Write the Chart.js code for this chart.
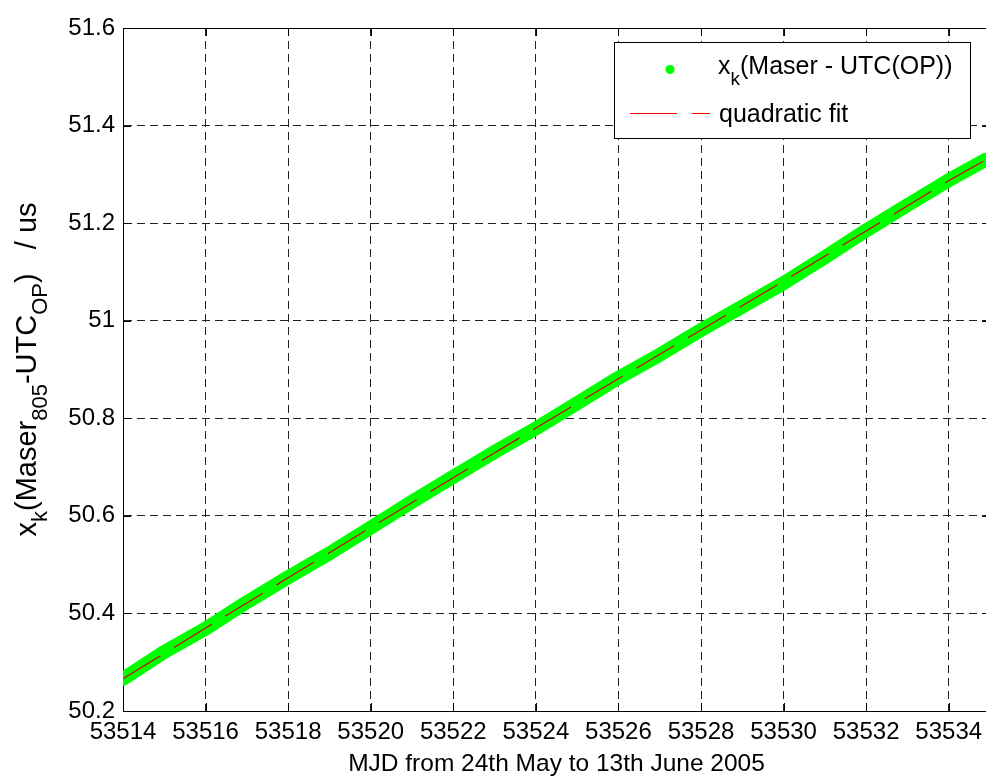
<!doctype html>
<html lang="en">

<head>
  <meta charset="utf-8">
  <title>Maser 805 - UTC(OP)</title>
  <script src="https://cdn.jsdelivr.net/npm/chart.js/dist/chart.umd.min.js"></script>
  <style>
    html, body { margin: 0; padding: 0; background: #fff; overflow: hidden; }
    canvas { display: block; }
  </style>
</head>

<body>
  <canvas id="myChart" width="1000" height="779"></canvas>

  <script>
    const mjd = [53514, 53515, 53516, 53517, 53518, 53519, 53520, 53521, 53522, 53523, 53524,
                 53525, 53526, 53527, 53528, 53529, 53530, 53531, 53532, 53533, 53534, 53534.9];
    const offsetUs = [50.266, 50.321, 50.369, 50.423, 50.474, 50.523, 50.576, 50.629, 50.680, 50.731, 50.779,
                      50.831, 50.883, 50.930, 50.981, 51.029, 51.077, 51.130, 51.185, 51.237, 51.288, 51.330];

    // quadratic fit
    const fitMjd = [53514, 53516, 53518, 53520, 53522, 53524, 53526, 53528, 53530, 53532, 53534, 53534.9];
    const fitUs = [50.266, 50.370, 50.473, 50.576, 50.678, 50.780, 50.881, 50.981, 51.081, 51.184, 51.287, 51.330];

    const xTicks = [53514, 53516, 53518, 53520, 53522, 53524, 53526, 53528, 53530, 53532, 53534];
    const yTicks = [50.2, 50.4, 50.6, 50.8, 51, 51.2, 51.4, 51.6];

    const FONT = 'Liberation Sans, Arial, sans-serif';

    // text with subscripts, parts = [[text, isSub], ...]
    function richWidth(ctx, parts, size, subSize) {
      let w = 0;
      parts.forEach(([t, sub]) => {
        ctx.font = (sub ? subSize : size) + 'px ' + FONT;
        w += ctx.measureText(t).width;
      });
      return w;
    }
    function drawRich(ctx, parts, x, y, size, subSize, drop) {
      ctx.textAlign = 'left';
      ctx.textBaseline = 'alphabetic';
      ctx.fillStyle = '#000';
      parts.forEach(([t, sub]) => {
        ctx.font = (sub ? subSize : size) + 'px ' + FONT;
        ctx.fillText(t, x, sub ? y + drop : y);
        x += ctx.measureText(t).width;
      });
    }

    const matlabLook = {
      id: 'matlabLook',
      beforeDatasetsDraw(chart) {
        const { ctx, chartArea: a, scales: { x, y } } = chart;
        ctx.save();
        ctx.strokeStyle = '#000';
        ctx.lineWidth = 1;
        ctx.beginPath();
        xTicks.forEach(v => {
          const px = Math.round(x.getPixelForValue(v)) + 0.5;
          ctx.moveTo(px, a.bottom); ctx.lineTo(px, a.bottom - 8);
          ctx.moveTo(px, a.top); ctx.lineTo(px, a.top + 8);
        });
        yTicks.forEach(v => {
          const py = Math.round(y.getPixelForValue(v)) + 0.5;
          ctx.moveTo(a.left, py); ctx.lineTo(a.left + 8, py);
          ctx.moveTo(a.right, py); ctx.lineTo(a.right - 8, py);
        });
        ctx.stroke();
        ctx.strokeRect(Math.round(a.left) + 0.5, Math.round(a.top) + 0.5,
                       Math.round(a.right - a.left), Math.round(a.bottom - a.top));
        ctx.restore();
      },
      afterDraw(chart) {
        const { ctx, chartArea: a } = chart;
        ctx.save();

        // y axis title with subscripts
        const yTitle = [['x', false], ['k', true], ['(Maser', false], ['805', true],
                        ['-UTC', false], ['OP', true], [')   / us', false]];
        const w = richWidth(ctx, yTitle, 29, 22);
        ctx.translate(36, (a.top + a.bottom) / 2);
        ctx.rotate(-Math.PI / 2);
        drawRich(ctx, yTitle, -w / 2, 0, 29, 22, 11);
        ctx.setTransform(1, 0, 0, 1, 0, 0);

        // legend box
        const lx = a.left + 491, ly = a.top + 14;
        ctx.fillStyle = '#fff';
        ctx.fillRect(lx, ly, 356, 96);
        ctx.strokeStyle = '#000';
        ctx.lineWidth = 1;
        ctx.strokeRect(lx + 0.5, ly + 0.5, 356, 96);

        ctx.fillStyle = '#00ff00';
        ctx.beginPath();
        ctx.arc(lx + 56, ly + 27.5, 4.5, 0, Math.PI * 2);
        ctx.fill();
        drawRich(ctx, [['x', false], ['k', true], ['(Maser - UTC(OP))', false]], lx + 104, ly + 31.5, 25, 19, 11);

        ctx.strokeStyle = '#ff0000';
        ctx.setLineDash([47, 15]);
        ctx.beginPath();
        ctx.moveTo(lx + 16, ly + 71.5);
        ctx.lineTo(lx + 96, ly + 71.5);
        ctx.stroke();
        ctx.setLineDash([]);
        drawRich(ctx, [['quadratic fit', false]], lx + 105, ly + 80, 25, 19, 11);

        ctx.restore();
      }
    };

    const config = {
      type: 'scatter',
      data: {
        datasets: [
          {
            label: 'x_k(Maser - UTC(OP))',
            data: mjd.map((v, i) => ({ x: v, y: offsetUs[i] })),
            showLine: true,
            borderColor: '#00ff00',
            backgroundColor: '#00ff00',
            borderWidth: 14,
            borderCapStyle: 'round',
            borderJoinStyle: 'round',
            pointRadius: 0,
            order: 2
          },
          {
            label: 'quadratic fit',
            data: fitMjd.map((v, i) => ({ x: v, y: fitUs[i] })),
            showLine: true,
            borderColor: '#d00000',
            borderWidth: 1.2,
            borderDash: [44, 16],
            pointRadius: 0,
            order: 1
          }
        ]
      },
      options: {
        responsive: false,
        animation: false,
        devicePixelRatio: 1,
        layout: { padding: { top: 28, right: 10, bottom: 0, left: 0 } },
        plugins: {
          legend: { display: false },
          tooltip: { enabled: false }
        },
        scales: {
          x: {
            type: 'linear',
            min: 53514,
            max: 53535,
            afterBuildTicks: s => { s.ticks = xTicks.map(v => ({ value: v })); },
            afterFit: s => { s.height = 68; },
            grid: { color: '#222', lineWidth: 1, drawTicks: false },
            border: { display: true, color: '#000', width: 1, dash: [8, 5] },
            ticks: {
              color: '#000',
              padding: 7,
              maxRotation: 0,
              autoSkip: false,
              font: { family: FONT, size: 24 },
              callback: v => String(v)
            },
            title: {
              display: true,
              text: 'MJD from 24th May to 13th June 2005',
              color: '#000',
              font: { family: FONT, size: 24.5 },
              padding: { top: 0, bottom: 0 }
            }
          },
          y: {
            type: 'linear',
            min: 50.2,
            max: 51.6,
            afterBuildTicks: s => { s.ticks = yTicks.map(v => ({ value: v })); },
            afterFit: s => { s.width = 123; },
            grid: { color: '#222', lineWidth: 1, drawTicks: false },
            border: { display: true, color: '#000', width: 1, dash: [8, 5] },
            ticks: {
              color: '#000',
              padding: 8,
              autoSkip: false,
              font: { family: FONT, size: 24 },
              callback: v => String(v)
            }
          }
        }
      },
      plugins: [matlabLook]
    };

    new Chart(document.getElementById('myChart'), config);
  </script>
</body>

</html>
